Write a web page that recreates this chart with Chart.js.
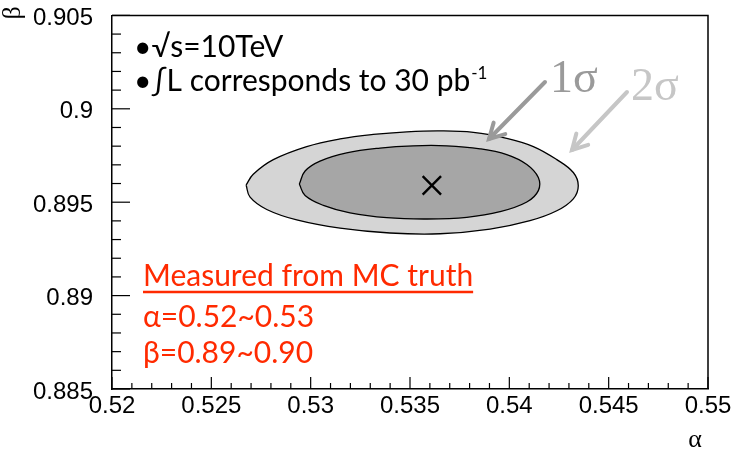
<!DOCTYPE html>
<html>
<head>
<meta charset="utf-8">
<script src="https://cdn.jsdelivr.net/npm/chart.js@4.4.0/dist/chart.umd.min.js"></script>
<style>
  html, body { margin: 0; padding: 0; background: #fff; }
</style>
</head>
<body>
<canvas id="chart" width="735" height="451"></canvas>
<script>
// axis ticks
const xTickValues = [0.52, 0.525, 0.53, 0.535, 0.54, 0.545, 0.55];
const xTickLabels = ['0.52', '0.525', '0.53', '0.535', '0.54', '0.545', '0.55'];
const yTickValues = [0.885, 0.89, 0.895, 0.9, 0.905];
const yTickLabels = ['0.885', '0.89', '0.895', '0.9', '0.905'];

// 2 sigma contour (alpha, beta)
const alpha2s = [0.52675, 0.52711, 0.52812, 0.52980, 0.53148, 0.53315, 0.53484, 0.53651, 0.53819, 0.53987,
                 0.54121, 0.54239, 0.54322, 0.54347, 0.54322, 0.54239, 0.54104, 0.53903, 0.53651, 0.53399,
                 0.53148, 0.52930, 0.52779, 0.52695];
const beta2s  = [0.89592, 0.89650, 0.89728, 0.89798, 0.89839, 0.89863, 0.89877, 0.89882, 0.89874, 0.89842,
                 0.89798, 0.89728, 0.89659, 0.89588, 0.89518, 0.89454, 0.89401, 0.89356, 0.89331, 0.89335,
                 0.89361, 0.89405, 0.89461, 0.89527];

// 1 sigma contour
const alpha1s = [0.52943, 0.52972, 0.53047, 0.53181, 0.53349, 0.53517, 0.53685, 0.53853, 0.53987, 0.54088,
                 0.54146, 0.54146, 0.54088, 0.53953, 0.53786, 0.53584, 0.53383, 0.53198, 0.53064, 0.52972];
const beta1s  = [0.89597, 0.89667, 0.89720, 0.89764, 0.89790, 0.89802, 0.89802, 0.89786, 0.89755, 0.89702,
                 0.89632, 0.89562, 0.89501, 0.89449, 0.89419, 0.89410, 0.89417, 0.89443, 0.89483, 0.89536];

// best fit
const bestAlpha = [0.5361];
const bestBeta = [0.8959];

function closedPoints(xs, ys) {
  const pts = xs.map((v, i) => ({ x: v, y: ys[i] }));
  pts.push(pts[0]);
  return pts;
}

function line(ctx, x1, y1, x2, y2) {
  ctx.beginPath();
  ctx.moveTo(x1, y1);
  ctx.lineTo(x2, y2);
  ctx.stroke();
}

function arrow(ctx, x1, y1, x2, y2, color) {
  const ang = Math.atan2(y2 - y1, x2 - x1);
  const head = 17;
  ctx.strokeStyle = color;
  ctx.lineWidth = 4;
  ctx.lineCap = 'round';
  line(ctx, x1, y1, x2, y2);
  ctx.beginPath();
  ctx.moveTo(x2 - head * Math.cos(ang - 0.5), y2 - head * Math.sin(ang - 0.5));
  ctx.lineTo(x2, y2);
  ctx.lineTo(x2 - head * Math.cos(ang + 0.5), y2 - head * Math.sin(ang + 0.5));
  ctx.stroke();
}

// frame, inward ticks and the text boxes
const decorations = {
  id: 'decorations',
  afterDraw(chart) {
    const { ctx, chartArea: a, scales: { x, y } } = chart;
    ctx.save();

    ctx.strokeStyle = '#000';
    ctx.lineWidth = 1.5;
    ctx.beginPath();
    ctx.moveTo(a.left, a.top);
    ctx.lineTo(a.right, a.top);
    ctx.lineTo(a.right, a.bottom);
    ctx.stroke();

    ctx.lineWidth = 1.2;
    for (let i = 0; i <= 30; i++) {
      const px = x.getPixelForValue(0.52 + i * 0.001);
      line(ctx, px, a.bottom, px, a.bottom - (i % 5 === 0 ? 12 : 6));
    }
    for (let i = 0; i <= 20; i++) {
      const py = y.getPixelForValue(0.885 + i * 0.001);
      line(ctx, a.left, py, a.left + (i % 5 === 0 ? 18 : 9), py);
    }

    // axis titles
    ctx.fillStyle = '#000';
    ctx.font = '26px "Liberation Serif"';
    ctx.textAlign = 'center';
    ctx.fillText('α', 695, 447);
    ctx.save();
    ctx.translate(20, 13);
    ctx.rotate(-Math.PI / 2);
    ctx.fillText('β', 0, 0);
    ctx.restore();

    // run info
    ctx.textAlign = 'left';
    ctx.font = '30px Lato';
    ctx.fillText('•√s=10TeV', 134, 57);
    const l2 = '•∫L corresponds to 30 pb';
    ctx.fillText(l2, 134, 91);
    const w2 = ctx.measureText(l2).width;
    ctx.font = '17px Lato';
    ctx.fillText('-1', 134 + w2 + 1, 79);

    // MC truth box
    ctx.fillStyle = '#ff2a00';
    ctx.strokeStyle = '#ff2a00';
    ctx.font = '30px Lato';
    const t1 = 'Measured from MC truth';
    ctx.fillText(t1, 143, 286);
    ctx.lineWidth = 2.5;
    line(ctx, 143, 292, 143 + ctx.measureText(t1).width, 292);
    ctx.fillText('α=0.52~0.53', 143, 327);
    ctx.fillText('β=0.89~0.90', 143, 363);

    // sigma labels
    ctx.font = '46px "Liberation Serif"';
    ctx.fillStyle = '#9a9a9a';
    ctx.fillText('1σ', 550, 92);
    ctx.fillStyle = '#c6c6c6';
    ctx.fillText('2σ', 631, 100);
    arrow(ctx, 545, 82, 489, 139, '#9a9a9a');
    arrow(ctx, 627, 92, 572, 150, '#c6c6c6');

    ctx.restore();
  }
};

const ctx = document.getElementById('chart').getContext('2d');
new Chart(ctx, {
  type: 'scatter',
  data: {
    datasets: [
      {
        data: bestAlpha.map((v, i) => ({ x: v, y: bestBeta[i] })),
        pointStyle: 'crossRot',
        pointRadius: 13,
        pointBorderWidth: 2.4,
        borderColor: '#000',
        order: 0
      },
      {
        data: closedPoints(alpha1s, beta1s),
        showLine: true,
        tension: 0.4,
        pointRadius: 0,
        borderColor: '#000',
        borderWidth: 1.3,
        backgroundColor: '#a6a6a6',
        fill: 'shape',
        order: 1
      },
      {
        data: closedPoints(alpha2s, beta2s),
        showLine: true,
        tension: 0.4,
        pointRadius: 0,
        borderColor: '#000',
        borderWidth: 1.3,
        backgroundColor: '#d5d5d5',
        fill: 'shape',
        order: 2
      }
    ]
  },
  options: {
    responsive: false,
    animation: false,
    layout: { padding: { top: 8, right: 27, left: 0, bottom: 0 } },
    plugins: { legend: { display: false }, tooltip: { enabled: false } },
    scales: {
      x: {
        type: 'linear',
        min: 0.52,
        max: 0.55,
        grid: { display: false, drawTicks: false },
        border: { display: true, color: '#000', width: 1.5 },
        afterBuildTicks: s => { s.ticks = xTickValues.map(v => ({ value: v })); },
        afterFit: s => { s.height = 62; s.paddingLeft = 0; s.paddingRight = 0; },
        ticks: {
          padding: 3,
          maxRotation: 0,
          color: '#000',
          font: { family: '"Liberation Sans"', size: 24 },
          callback: (v, i) => xTickLabels[i]
        }
      },
      y: {
        type: 'linear',
        min: 0.885,
        max: 0.905,
        grid: { display: false, drawTicks: false },
        border: { display: true, color: '#000', width: 1.5 },
        afterBuildTicks: s => { s.ticks = yTickValues.map(v => ({ value: v })); },
        afterFit: s => { s.width = 112; s.paddingTop = 0; s.paddingBottom = 0; },
        ticks: {
          padding: 19,
          labelOffset: 3,
          color: '#000',
          font: { family: '"Liberation Sans"', size: 24 },
          callback: (v, i) => yTickLabels[i]
        }
      }
    }
  },
  plugins: [decorations]
});
</script>
</body>
</html>
